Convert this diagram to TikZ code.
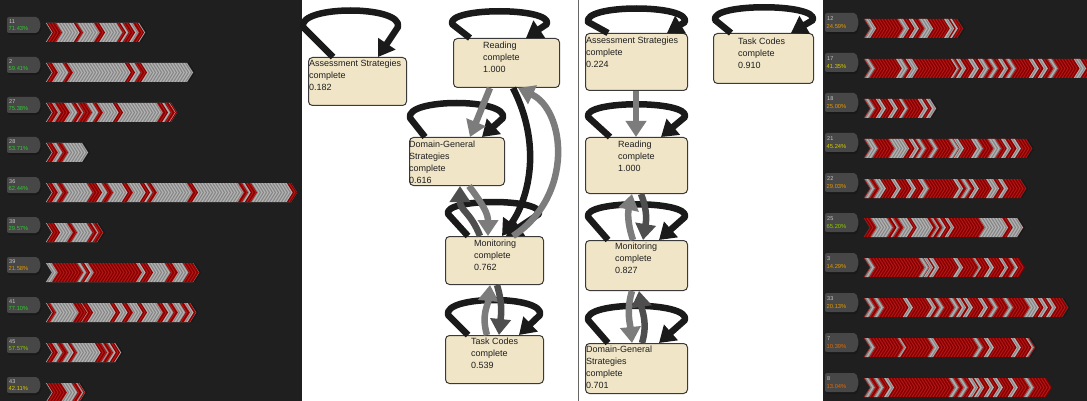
\documentclass[tikz,border=0pt]{standalone}
\usepackage{fontspec}
\setmainfont{Liberation Sans}
\usetikzlibrary{arrows.meta,calc}
\definecolor{panel}{HTML}{1F1F1F}
\definecolor{tabc}{HTML}{474747}
\definecolor{bred}{HTML}{A80000}
\definecolor{bgray}{HTML}{ABABAB}
\definecolor{nodefill}{HTML}{F0E5C7}
\definecolor{nodeline}{HTML}{3A3A3A}
\definecolor{edgeblack}{HTML}{1A1A1A}
\definecolor{edgegray}{HTML}{7C7C7C}
\definecolor{edgedark}{HTML}{4E4E4E}
\definecolor{pgrn}{HTML}{2FCB2F}
\definecolor{plime}{HTML}{8CCB00}
\definecolor{pyel}{HTML}{D8CC00}
\definecolor{porg}{HTML}{E39A00}
\definecolor{pred}{HTML}{E06A00}
\tikzset{
  box/.style={draw=nodeline, fill=nodefill, rounded corners=4pt, line width=1pt, inner sep=0pt, anchor=north west},
  btext/.style={anchor=north west, inner sep=0pt, align=left, font=\fontsize{9}{12}\selectfont, text=black!88},
  lp/.style={draw=edgeblack, line width=6.5pt, line join=round, -{Triangle[length=16pt,width=20pt]}},
  eg/.style={lp, draw=edgegray},
  ed/.style={lp, draw=edgedark},
  hatchd/.style={black, opacity=.22, line width=1pt},
  hatchl/.style={white, opacity=.10, line width=.8pt},
  tabnum/.style={anchor=west, inner sep=0pt, font=\fontsize{5.5}{6}\selectfont, text=black!20},
  tabpct/.style={anchor=west, inner sep=0pt, font=\fontsize{5.8}{6}\selectfont},
}
% chevron bar: x0, top, length, base colour, other colour, segments
\newcommand\chbar[6]{%
  \fill[#4] (#1,#2) -- ++(#3,0) -- ++(6,9.5) -- ++(-6,9.5) -- ++(-#3,0) -- ++(6,-9.5) -- cycle;
  \foreach \a/\b in {#6}{%
    \fill[#5] ({#1+\a+0.8},#2) -- ({#1+\b},#2) -- ++(6,9.5) -- ++(-6,9.5) -- ({#1+\a+0.8},{#2+19}) -- ++(6,-9.5) -- cycle;
  }
  \pgfmathsetmacro\chend{#3}
  \foreach \s in {0,3,...,\chend}{%
    \draw[hatchd] ({#1+\s+1.5},#2) -- ++(6,9.5) -- ++(-6,9.5);
    \draw[hatchl] ({#1+\s},#2) -- ++(6,9.5) -- ++(-6,9.5);
  }
}
% tab: x, top, width, height, number, percent, colour
\newcommand\tabtag[7]{%
  \fill[black!90, rounded corners=2pt] ({#1+1},{#2+2}) -- ++(#3,0) -- ++(3,{#4/2}) -- ++(-3,{#4/2}) -- ++(-#3,0) -- cycle;
  \fill[tabc, rounded corners=2pt] (#1,#2) -- ++(#3,0) -- ++(3,{#4/2}) -- ++(-3,{#4/2}) -- ++(-#3,0) -- cycle;
  \node[tabnum] (n#5) at ({#1+2},{#2+#4*0.28}) {#5};
  \node[tabpct, text=#7] (p#5) at ({#1+1.5},{#2+#4*0.72}) {#6};
}
\begin{document}
\begin{tikzpicture}[x=1pt,y=-1pt]
\useasboundingbox (0,0) rectangle (1087,401);
\fill[white] (0,0) rectangle (1087,401);
\fill[panel] (0,0) rectangle (302,401);
\fill[panel] (823,0) rectangle (1087,401);
\draw[black!60, line width=1.2pt] (578.5,0) -- (578.5,401);

% ---- left panel
\tabtag{7}{17}{31}{16}{11}{71.43\%}{pgrn}
\tabtag{7}{57}{31}{16}{2}{59.41\%}{pgrn}
\tabtag{7}{97}{31}{16}{27}{75.38\%}{pgrn}
\tabtag{7}{137}{31}{16}{28}{53.71\%}{pgrn}
\tabtag{7}{177}{31}{16}{36}{62.44\%}{pgrn}
\tabtag{7}{217}{31}{16}{38}{29.57\%}{pgrn}
\tabtag{7}{257}{31}{16}{39}{21.58\%}{porg}
\tabtag{7}{297}{31}{16}{41}{77.10\%}{pgrn}
\tabtag{7}{337}{31}{16}{45}{57.57\%}{plime}
\tabtag{7}{377}{31}{16}{43}{42.11\%}{pyel}

\chbar{46}{23}{93}{bgray}{bred}{0/10,27/31,47/53,70/74,76/83,86/92}
\chbar{46}{63}{141}{bgray}{bred}{0/6,16/21,78/83,88/95}
\chbar{46}{103}{125}{bgray}{bred}{0/6,8/18,25/30,31/40,46/51,66/71,110/116,118/123,123/125}
\chbar{46}{143}{36}{bgray}{bred}{0/6,10/16}
\chbar{46}{183}{245}{bgray}{bred}{0/6,10/16,40/50,55/61,75/81,93/98,100/105,140/146,191/196,198/205,240/245}
\chbar{46}{223}{51}{bgray}{bred}{0/8,20/25,40/45,46/51}
\chbar{46}{263}{147}{bgray}{bred}{5/31,34/38,41/90,93/101,118/126,136/147}
\chbar{46}{303}{144}{bgray}{bred}{0/4,26/35,35/41,63/68,75/81,90/95,110/116,121/126,133/138,141/144}
\chbar{46}{343}{69}{bgray}{bred}{0/6,10/16,21/25,48/55,56/61,63/68}
\chbar{46}{383}{33}{bgray}{bred}{0/15,25/30,31/33}

% ---- right panel
\tabtag{825}{13}{31}{19}{12}{24.59\%}{porg}
\tabtag{825}{53}{31}{19}{17}{41.35\%}{pyel}
\tabtag{825}{93}{31}{19}{18}{25.00\%}{porg}
\tabtag{825}{133}{31}{19}{21}{45.24\%}{pyel}
\tabtag{825}{173}{31}{19}{22}{29.03\%}{porg}
\tabtag{825}{213}{31}{19}{25}{65.20\%}{plime}
\tabtag{825}{253}{31}{19}{3}{14.29\%}{porg}
\tabtag{825}{293}{31}{19}{33}{20.13\%}{porg}
\tabtag{825}{333}{31}{19}{7}{10.39\%}{pred}
\tabtag{825}{373}{31}{19}{8}{13.04\%}{pred}

\chbar{864}{19}{93}{bred}{bgray}{0/6,33/39,44/49,54/63,79/84,85/88}
\chbar{864}{59}{230}{bred}{bgray}{0/5,31/38,41/48,86/89,91/96,103/109,113/119,123/128,133/138,141/146,164/169,173/178,183/188,209/216}
\chbar{864}{99}{66}{bred}{bgray}{0/5,11/16,23/28,34/38,53/58,61/66}
\chbar{864}{139}{162}{bred}{bgray}{0/8,24/39,44/49,51/56,63/68,84/89,89/94,106/113,123/131,136/141,146/151}
\chbar{864}{179}{156}{bred}{bgray}{0/5,9/16,26/31,41/46,53/59,88/93,96/101,104/109,121/129,133/138}
\chbar{864}{218}{153}{bred}{bgray}{6/23,26/29,33/43,46/63,66/69,72/76,80/84,114/138,142/153}
\chbar{864}{258}{155}{bred}{bgray}{0/5,54/59,59/63,64/69,88/93,108/111,119/124,134/138,144/148}
\chbar{864}{298}{198}{bred}{bgray}{0/5,9/14,38/43,61/66,69/74,84/89,91/96,98/103,113/118,123/128,138/143,159/169,173/178,181/186}
\chbar{864}{338}{165}{bred}{bgray}{0/5,33/36,63/69,108/113,119/124,146/151,161/164}
\chbar{864}{378}{182}{bred}{bgray}{0/5,9/14,19/24,84/89,93/98,103/108,109/114,119/124,128/133,143/148,159/164}

% ---- graph nodes (left)
\node[box, minimum width=98pt, minimum height=48pt] (asL) at (308,57) {};
\node[box, minimum width=106pt, minimum height=49pt] (rdL) at (453,38) {};
\node[box, minimum width=95pt, minimum height=48pt] (dgL) at (409,137) {};
\node[box, minimum width=98pt, minimum height=48pt] (moL) at (445,236) {};
\node[box, minimum width=98pt, minimum height=48pt] (tcL) at (445,335) {};
\node[btext] (asLt) at (309,60) {Assessment Strategies\\complete\\0.182};
\node[btext] (rdLt) at (483,42) {Reading\\complete\\1.000};
\node[btext] (dgLt) at (409,141) {Domain-General\\Strategies\\complete\\0.616};
\node[btext] (moLt) at (474,240) {Monitoring\\complete\\0.762};
\node[btext] (tcLt) at (471,338) {Task Codes\\complete\\0.539};

% ---- graph nodes (right)
\node[box, minimum width=102pt, minimum height=57pt] (asR) at (585,33) {};
\node[box, minimum width=100pt, minimum height=50pt] (tcR) at (713,33) {};
\node[box, minimum width=102pt, minimum height=56pt] (rdR) at (585,137) {};
\node[box, minimum width=102pt, minimum height=50pt] (moR) at (585,240) {};
\node[box, minimum width=102pt, minimum height=50pt] (dgR) at (585,343) {};
\node[btext] (asRt) at (586,37) {Assessment Strategies\\complete\\0.224};
\node[btext] (tcRt) at (738,38) {Task Codes\\complete\\0.910};
\node[btext] (rdRt) at (618,141) {Reading\\complete\\1.000};
\node[btext] (moRt) at (615,243) {Monitoring\\complete\\0.827};
\node[btext] (dgRt) at (586,346) {Domain-General\\Strategies\\complete\\0.701};

% ---- self loops (left)
\draw[lp] ([xshift=25pt]asL.north west) -- ++(-30,-30) .. controls +(-5,-22) and +(5,-22) .. ++(95,0) -- ([xshift=-29pt]asL.north east);
\draw[lp] ([xshift=17pt]rdL.north west) -- ++(-18,-14) .. controls +(-5,-17) and +(5,-17) .. ++(95,0) -- ([xshift=-34pt]rdL.north east);
\draw[lp] ([xshift=16pt]dgL.north west) -- ++(-15,-19) .. controls +(-5,-20) and +(5,-20) .. ++(93,0) -- ([xshift=-23pt]dgL.north east);
\draw[lp] ([xshift=23pt]moL.north west) -- ++(-20,-22) .. controls +(-5,-16) and +(5,-16) .. ++(91,0) -- ([xshift=-38pt]moL.north east);
\draw[lp] ([xshift=23pt]tcL.north west) -- ++(-20,-20) .. controls +(-5,-20) and +(5,-20) .. ++(92,0) -- ([xshift=-25pt]tcL.north east);

% ---- self loops (right)
\draw[lp] ([xshift=23pt]asR.north west) -- ++(-20,-11) .. controls +(-5,-18) and +(5,-18) .. ++(97,0) -- ([xshift=-21pt]asR.north east);
\draw[lp] ([xshift=18pt]tcR.north west) -- ++(-16,-13) .. controls +(-5,-17) and +(5,-17) .. ++(98,0) -- ([xshift=-23pt]tcR.north east);
\draw[lp] ([xshift=25pt]rdR.north west) -- ++(-22,-20) .. controls +(-5,-17) and +(5,-17) .. ++(97,0) -- ([xshift=-27pt]rdR.north east);
\draw[lp] ([xshift=23pt]moR.north west) -- ++(-20,-23) .. controls +(-5,-17) and +(5,-17) .. ++(97,0) -- ([xshift=-29pt]moR.north east);
\draw[lp] ([xshift=23pt]dgR.north west) -- ++(-20,-23) .. controls +(-5,-19) and +(5,-19) .. ++(97,0) -- ([xshift=-29pt]dgR.north east);

% ---- edges (left)
\draw[eg] ([xshift=37pt]rdL.south west) -- ([xshift=61pt]dgL.north west);
\draw[lp] ([xshift=60pt]rdL.south west) .. controls +(32,63) and +(23,-31) .. ([xshift=57pt]moL.north west);
\draw[eg] ([xshift=68pt]moL.north west) .. controls +(62,-41) and +(47,22) .. ([xshift=65pt]rdL.south west);
\draw[ed] ([xshift=35pt]moL.north west) .. controls +(-10,-25) and +(0,25) .. ([xshift=51pt]dgL.south west);
\draw[eg] ([xshift=60pt]dgL.south west) .. controls +(15,20) and +(0,-22) .. ([xshift=43pt]moL.north west);
\draw[eg] ([xshift=42pt]tcL.north west) .. controls +(-6,-20) and +(-2,20) .. ([xshift=45pt]moL.south west);
\draw[ed] ([xshift=52pt]moL.south west) .. controls +(6,20) and +(2,-20) .. ([xshift=54pt]tcL.north west);

% ---- edges (right)
\draw[eg] ([xshift=51pt]asR.south west) -- ([xshift=51pt]rdR.north west);
\draw[eg] ([xshift=48pt]moR.north west) .. controls +(-6,-18) and +(-4,18) .. ([xshift=47pt]rdR.south west);
\draw[ed] ([xshift=56pt]rdR.south west) .. controls +(7,18) and +(3,-18) .. ([xshift=58pt]moR.north west);
\draw[ed] ([xshift=57pt]dgR.north west) .. controls +(6,-20) and +(3,20) .. ([xshift=54pt]moR.south west);
\draw[eg] ([xshift=47pt]moR.south west) .. controls +(-6,20) and +(-2,-20) .. ([xshift=47pt]dgR.north west);
\end{tikzpicture}
\end{document}
